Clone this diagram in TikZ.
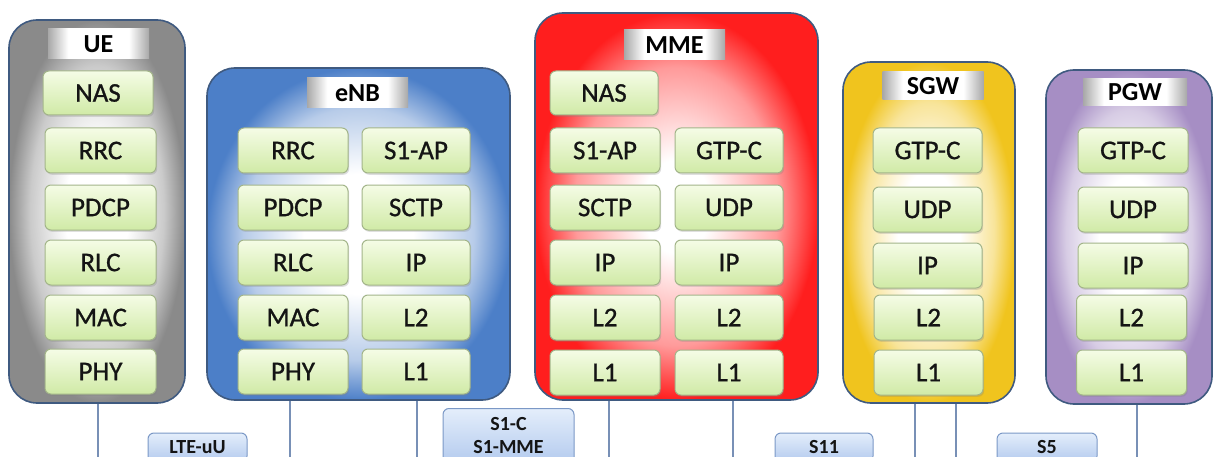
\documentclass[tikz,border=0pt]{standalone}
\usepackage{fontspec}
\setmainfont{Carlito}
\newfontfamily\layfont[FakeBold=0.9]{Carlito}
\usetikzlibrary{shadows}
\definecolor{frameC}{HTML}{3F5A80}
\definecolor{ueC}{HTML}{8A8A8A}
\definecolor{enbC}{HTML}{4C7FC8}
\definecolor{mmeC}{HTML}{FF1E1E}
\definecolor{sgwC}{HTML}{F0C41E}
\definecolor{pgwC}{HTML}{A68EC4}
\definecolor{titleC}{HTML}{A8A8A8}
\definecolor{layTop}{HTML}{F5FCE6}
\definecolor{layBot}{HTML}{D0EAA6}
\definecolor{layBorder}{HTML}{A3B58A}
\definecolor{ifTop}{HTML}{E4EEFB}
\definecolor{ifBot}{HTML}{B3CAEE}
\definecolor{ifBorder}{HTML}{7B98C6}
\definecolor{linkC}{HTML}{7890B6}
\definecolor{txtC}{HTML}{141414}
\colorlet{ueM}{ueC!45!white}
\colorlet{enbM}{enbC!40!white}
\colorlet{mmeM}{mmeC!45!white}
\colorlet{sgwM}{sgwC!45!white}
\colorlet{pgwM}{pgwC!45!white}
\pgfdeclareradialshading{shUE}{\pgfpoint{0bp}{0bp}}{color(0bp)=(white); color(9bp)=(white); color(19bp)=(ueM); color(25bp)=(ueC); color(50bp)=(ueC)}
\pgfdeclareradialshading{shENB}{\pgfpoint{0bp}{0bp}}{color(0bp)=(white); color(9bp)=(white); color(19bp)=(enbM); color(25bp)=(enbC); color(50bp)=(enbC)}
\pgfdeclareradialshading{shMME}{\pgfpoint{0bp}{0bp}}{color(0bp)=(white); color(6bp)=(white); color(18bp)=(mmeM); color(25bp)=(mmeC); color(50bp)=(mmeC)}
\pgfdeclareradialshading{shSGW}{\pgfpoint{0bp}{0bp}}{color(0bp)=(white); color(9bp)=(white); color(19bp)=(sgwM); color(25bp)=(sgwC); color(50bp)=(sgwC)}
\pgfdeclareradialshading{shPGW}{\pgfpoint{0bp}{0bp}}{color(0bp)=(white); color(9bp)=(white); color(19bp)=(pgwM); color(25bp)=(pgwC); color(50bp)=(pgwC)}
\pgfdeclarehorizontalshading{shTitle}{100bp}{color(0bp)=(titleC); color(25bp)=(titleC); color(35bp)=(white); color(65bp)=(white); color(75bp)=(titleC); color(100bp)=(titleC)}
\tikzset{
  box/.style={draw=frameC, line width=1.6pt, rounded corners=28pt, shade, inner sep=0pt},
  layer/.style={draw=layBorder, line width=1pt, rounded corners=6pt, top color=layTop, bottom color=layBot,
    drop shadow={shadow xshift=1.2pt, shadow yshift=-1.8pt, opacity=0.25},
    minimum height=45pt, text=txtC, font=\layfont\fontsize{27}{29}\selectfont, inner sep=0pt},
  title/.style={shade, shading=shTitle, minimum width=101pt, minimum height=30pt,
    font=\bfseries\fontsize{26}{28}\selectfont, inner sep=0pt, text=black},
  iface/.style={draw=ifBorder, line width=1pt, rounded corners=6pt, top color=ifTop, bottom color=ifBot,
    font=\bfseries\fontsize{20}{23}\selectfont, align=center, inner sep=0pt, text=txtC},
  link/.style={draw=linkC, line width=1.1pt}
}
\begin{document}
\begin{tikzpicture}[x=1pt,y=-1pt]
\useasboundingbox (0,0) rectangle (1214,457);
\clip (0,0) rectangle (1214,457);
% ---------- containers ----------
\node[box, shading=shUE, minimum width=176pt, minimum height=383pt] (ue) at (97,211.5) {};
\node[box, shading=shENB, minimum width=303pt, minimum height=332pt] (enb) at (358.5,234) {};
\node[box, shading=shMME, minimum width=283pt, minimum height=387pt] (mme) at (676.5,206.5) {};
\node[box, shading=shSGW, minimum width=172pt, minimum height=341pt] (sgw) at (929,232.5) {};
\node[box, shading=shPGW, minimum width=166pt, minimum height=334pt] (pgw) at (1129,237) {};
% ---------- titles ----------
\node[title] (ueT) at (98.5,44) {UE};
\node[title] (enbT) at (357.5,93) {eNB};
\node[title] (mmeT) at (674.5,45) {MME};
\node[title, minimum height=28pt] (sgwT) at (933,86) {SGW};
\node[title, minimum width=104pt, minimum height=27pt] (pgwT) at (1135,92) {PGW};
% ---------- UE stack ----------
\node[layer, minimum width=110pt, minimum height=44pt] (ue1) at (98,93) {NAS};
\node[layer, minimum width=111pt] (ue2) at (100.5,150.5) {RRC};
\node[layer, minimum width=111pt] (ue3) at (100.5,207.5) {PDCP};
\node[layer, minimum width=111pt] (ue4) at (100.5,262.5) {RLC};
\node[layer, minimum width=111pt] (ue5) at (100.5,317.5) {MAC};
\node[layer, minimum width=111pt] (ue6) at (100.5,371.5) {PHY};
% ---------- eNB stack ----------
\node[layer, minimum width=110pt] (enbA1) at (293,150.5) {RRC};
\node[layer, minimum width=110pt] (enbA2) at (293,207.5) {PDCP};
\node[layer, minimum width=110pt] (enbA3) at (293,262.5) {RLC};
\node[layer, minimum width=110pt] (enbA4) at (293,317.5) {MAC};
\node[layer, minimum width=110pt] (enbA5) at (293,371.5) {PHY};
\node[layer, minimum width=108pt] (enbB1) at (416,150.5) {S1-AP};
\node[layer, minimum width=108pt] (enbB2) at (416,207.5) {SCTP};
\node[layer, minimum width=108pt] (enbB3) at (416,262.5) {IP};
\node[layer, minimum width=108pt] (enbB4) at (416,317.5) {L2};
\node[layer, minimum width=108pt] (enbB5) at (416,371.5) {L1};
% ---------- MME stack ----------
\node[layer, minimum width=108pt, minimum height=44pt] (mme0) at (604,93) {NAS};
\node[layer, minimum width=110pt] (mmeA1) at (605,150.5) {S1-AP};
\node[layer, minimum width=110pt] (mmeA2) at (605,207.5) {SCTP};
\node[layer, minimum width=110pt] (mmeA3) at (605,262.5) {IP};
\node[layer, minimum width=110pt] (mmeA4) at (605,317.5) {L2};
\node[layer, minimum width=110pt] (mmeA5) at (605,372.5) {L1};
\node[layer, minimum width=108pt] (mmeB1) at (729,150.5) {GTP-C};
\node[layer, minimum width=108pt] (mmeB2) at (729,207.5) {UDP};
\node[layer, minimum width=108pt] (mmeB3) at (729,262.5) {IP};
\node[layer, minimum width=108pt] (mmeB4) at (729,317.5) {L2};
\node[layer, minimum width=108pt] (mmeB5) at (729,372.5) {L1};
% ---------- SGW stack ----------
\node[layer, minimum width=109pt] (sgw1) at (927.5,150.5) {GTP-C};
\node[layer, minimum width=109pt] (sgw2) at (927.5,209.5) {UDP};
\node[layer, minimum width=109pt] (sgw3) at (927.5,265.5) {IP};
\node[layer, minimum width=109pt] (sgw4) at (928.5,317.5) {L2};
\node[layer, minimum width=109pt] (sgw5) at (928.5,372.5) {L1};
% ---------- PGW stack ----------
\node[layer, minimum width=110pt] (pgw1) at (1133,150.5) {GTP-C};
\node[layer, minimum width=110pt] (pgw2) at (1133,209.5) {UDP};
\node[layer, minimum width=110pt] (pgw3) at (1133,265.5) {IP};
\node[layer, minimum width=110pt] (pgw4) at (1131.5,317.5) {L2};
\node[layer, minimum width=110pt] (pgw5) at (1131.5,372.5) {L1};
% ---------- connectors ----------
\coordinate (b1) at (98,462);
\coordinate (b2) at (290,462);
\coordinate (b3) at (417,462);
\coordinate (b4) at (609,462);
\coordinate (b5) at (733,462);
\coordinate (b6) at (915,462);
\coordinate (b7) at (956,462);
\coordinate (b8) at (1137,462);
\draw[link] (ue.south -| b1) -- (b1);
\draw[link] (enb.south -| b2) -- (b2);
\draw[link] (enb.south -| b3) -- (b3);
\draw[link] (mme.south -| b4) -- (b4);
\draw[link] (mme.south -| b5) -- (b5);
\draw[link] (sgw.south -| b6) -- (b6);
\draw[link] (sgw.south -| b7) -- (b7);
\draw[link] (pgw.south -| b8) -- (b8);
% ---------- interface labels ----------
\node[iface, minimum width=99pt, minimum height=29pt] (ifUu) at (197.5,447.5) {LTE-uU};
\node[iface, minimum width=131pt, minimum height=55pt] (ifS1) at (508.5,436) {S1-C\\S1-MME};
\node[iface, minimum width=98pt, minimum height=29pt] (ifS11) at (824,447.5) {S11};
\node[iface, minimum width=100pt, minimum height=29pt] (ifS5) at (1047,447.5) {S5};
\end{tikzpicture}
\end{document}
